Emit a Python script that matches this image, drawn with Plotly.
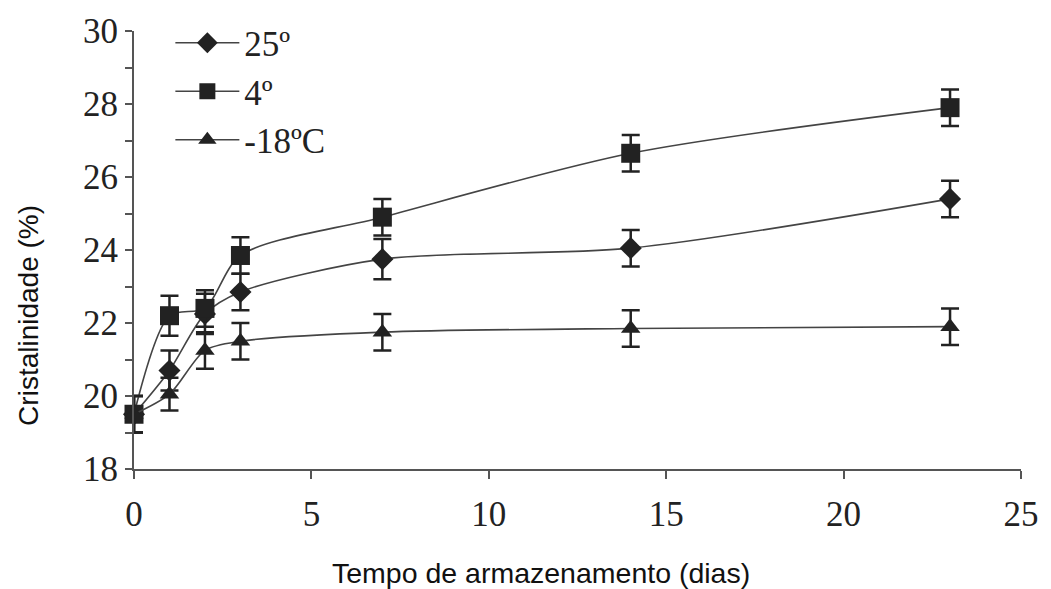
import plotly.graph_objects as go

dias = [0, 1, 2, 3, 7, 14, 23]
t25 = [19.5, 20.7, 22.25, 22.85, 23.75, 24.05, 25.4]
t4 = [19.5, 22.2, 22.4, 23.85, 24.9, 26.65, 27.9]
tm18 = [19.5, 20.05, 21.25, 21.5, 21.75, 21.85, 21.9]
err25 = [0.5, 0.55, 0.55, 0.5, 0.55, 0.5, 0.5]
err4 = [0.5, 0.55, 0.5, 0.5, 0.5, 0.5, 0.5]
errm18 = [0.5, 0.45, 0.5, 0.5, 0.5, 0.5, 0.5]
names = ["25º", "4º", "-18ºC"]
x_title = "Tempo de armazenamento (dias)"
y_title = "Cristalinidade (%)"

c = "#222222"
fig = go.Figure()
for y, e, n, sym, sz in [(t25, err25, names[0], "diamond", 17),
                          (t4, err4, names[1], "square", 19),
                          (tm18, errm18, names[2], "triangle-up", 17)]:
    fig.add_trace(go.Scatter(
        x=dias, y=y, name=n, mode="lines+markers", cliponaxis=False,
        line=dict(color="#444444", width=1.6, shape="spline", smoothing=0.8),
        marker=dict(symbol=sym, size=sz, color=c),
        error_y=dict(type="data", array=e, visible=True, color=c, thickness=2.5, width=9),
    ))

fig.update_layout(
    width=1051, height=589,
    margin=dict(l=134, r=27, t=24, b=120),
    paper_bgcolor="white", plot_bgcolor="white",
    showlegend=True,
    legend=dict(x=0.041, y=1.04, xanchor="left", yanchor="top",
                font=dict(family="Liberation Serif", size=35, color="#222"),
                bgcolor="rgba(0,0,0,0)", itemwidth=64, tracegroupgap=0),
    xaxis=dict(range=[0, 25], tickvals=[0, 5, 10, 15, 20, 25], showline=True,
               linecolor="#555", linewidth=2, ticks="outside", ticklen=8, tickwidth=2,
               tickcolor="#555", showgrid=False, zeroline=False, ticklabelstandoff=5,
               tickfont=dict(family="Liberation Serif", size=35, color="#222")),
    yaxis=dict(range=[18, 30], tickvals=[18, 20, 22, 24, 26, 28, 30], showline=True,
               linecolor="#555", linewidth=2, ticks="outside", ticklen=7, tickwidth=2,
               tickcolor="#555", showgrid=False, zeroline=False,
               minor=dict(dtick=1, ticks="outside", ticklen=7, tickwidth=2, tickcolor="#555", showgrid=False),
               tickfont=dict(family="Liberation Serif", size=35, color="#222")),
    annotations=[
        dict(text=x_title, xref="paper", yref="paper", x=0.4584, y=-0.238,
             xanchor="center", yanchor="middle", showarrow=False,
             font=dict(family="Liberation Sans", size=28.5, color="#111")),
        dict(text=y_title, xref="paper", yref="paper", x=-0.119, y=0.3506,
             xanchor="center", yanchor="middle", showarrow=False, textangle=-90,
             font=dict(family="Liberation Sans", size=28, color="#111")),
    ],
)
fig.write_html("out.html")
